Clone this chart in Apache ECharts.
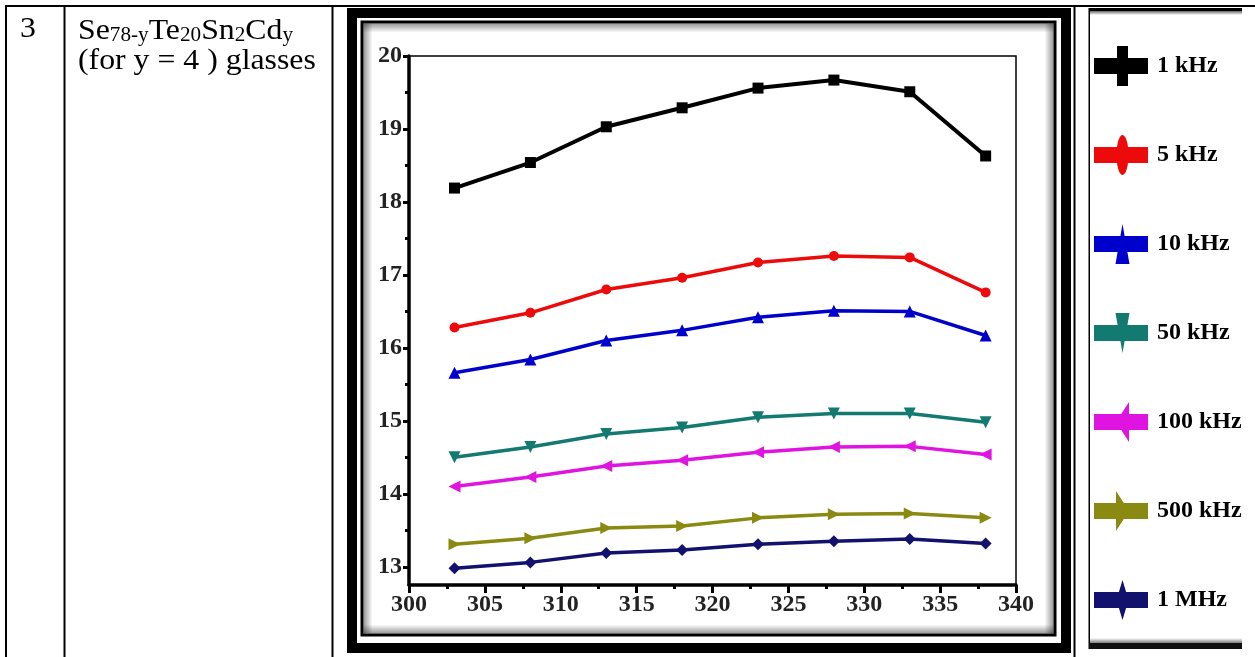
<!DOCTYPE html>
<html>
<head>
<meta charset="utf-8">
<script src="https://cdn.jsdelivr.net/npm/echarts@6/dist/echarts.min.js"></script>
<style>
  html, body { margin: 0; padding: 0; background: #ffffff; }
  #chart { width: 1255px; height: 657px; }
</style>
</head>
<body>
<div id="chart"></div>
<script>
// Temperature (K) on the x axis
const temperatures = [303, 308, 313, 318, 323, 328, 333, 338];

// Dielectric values for each measuring frequency
const freq1k   = [18.19, 18.54, 19.03, 19.29, 19.56, 19.67, 19.51, 18.63];
const freq5k   = [16.28, 16.48, 16.80, 16.96, 17.17, 17.26, 17.24, 16.76];
const freq10k  = [15.66, 15.84, 16.10, 16.24, 16.42, 16.51, 16.50, 16.17];
const freq50k  = [14.50, 14.64, 14.82, 14.91, 15.05, 15.10, 15.10, 14.98];
const freq100k = [14.10, 14.23, 14.38, 14.46, 14.57, 14.64, 14.65, 14.54];
const freq500k = [13.31, 13.39, 13.53, 13.56, 13.67, 13.72, 13.73, 13.67];
const freq1M   = [12.98, 13.06, 13.19, 13.23, 13.31, 13.35, 13.38, 13.32];

const seriesNames = ['1 kHz', '5 kHz', '10 kHz', '50 kHz', '100 kHz', '500 kHz', '1 MHz'];
const seriesValues = [freq1k, freq5k, freq10k, freq50k, freq100k, freq500k, freq1M];

// Axis tick labels
const xTickLabels = [300, 305, 310, 315, 320, 325, 330, 335, 340];
const yTickLabels = [13, 14, 15, 16, 17, 18, 19, 20];
const yMinorTicks = [13.5, 14.5, 15.5, 16.5, 17.5, 18.5, 19.5];

// Table cell text
const rowNumber = '3';
const sampleLine2 = '(for y = 4 ) glasses';

// Per-series look
const colors  = ['#000000', '#ec0a0a', '#0000cc', '#127a70', '#e014e0', '#8a8a12', '#12126e'];
const symbols = ['rect', 'circle', 'triangle', 'triangle', 'triangle', 'triangle', 'diamond'];
const rotates = [0, 0, 0, 180, 90, -90, 0];
const sizes   = [11, 10, 12, 12, 12, 12, 12];
const widths  = [4, 3.5, 3.5, 3.5, 3.5, 3.5, 3.5];

// Legend icons: a thick line with a tall, narrow marker across it
const band = 'M0,12H54V28H0Z';
const legendIcons = [
  'path://M0,12H23V0H34V12H54V28H34V40H23V28H0Z',
  'path://M0,12H23A6,20 0 0 1 34,12H54V28H34A6,20 0 0 1 23,28H0Z',
  'path://' + band + 'M28.5,0L35.5,40H21.5Z',
  'path://' + band + 'M21.5,0H35.5L28.5,40Z',
  'path://' + band + 'M22,20L35,0V40Z',
  'path://' + band + 'M22,0L35,20L22,40Z',
  'path://' + band + 'M28.5,0L34.5,20L28.5,40L22.5,20Z'
];

const serif = '"Liberation Serif", "Times New Roman", serif';

const series = seriesNames.map((name, i) => ({
  name: name,
  type: 'line',
  data: temperatures.map((t, k) => [t, seriesValues[i][k]]),
  symbol: symbols[i],
  symbolRotate: rotates[i],
  symbolSize: sizes[i],
  showAllSymbol: true,
  lineStyle: { color: colors[i], width: widths[i] },
  itemStyle: { color: colors[i], borderWidth: 0 },
  z: 5
}));

// Soft shading strip, darkest at (gx0, gy0), fading toward (gx1, gy1)
function shade(x, y, w, h, gx0, gy0, gx1, gy1, alpha) {
  return {
    type: 'rect', silent: true, z: -5,
    shape: { x: x, y: y, width: w, height: h },
    style: {
      fill: new echarts.graphic.LinearGradient(gx0, gy0, gx1, gy1, [
        { offset: 0, color: 'rgba(0,0,0,' + alpha + ')' },
        { offset: 1, color: 'rgba(0,0,0,0)' }
      ])
    }
  };
}
function bar(x, y, w, h, color) {
  return { type: 'rect', silent: true, z: -4, shape: { x: x, y: y, width: w, height: h }, style: { fill: color || '#000' } };
}

const graphics = [
  // table rules
  bar(5, 5, 1250, 2),
  bar(5, 5, 2, 652),
  bar(63.5, 5, 2, 652),
  bar(331.5, 5, 2, 652),
  bar(1073.5, 5, 2, 652),
  // chart frame: heavy outer border, thin inner border, inner shading
  { type: 'rect', silent: true, z: -4, shape: { x: 352, y: 13, width: 714, height: 635 },
    style: { fill: null, stroke: '#000', lineWidth: 10 } },
  { type: 'rect', silent: true, z: -4, shape: { x: 362, y: 22, width: 693, height: 613 },
    style: { fill: null, stroke: '#000', lineWidth: 3 } },
  shade(363.5, 23.5, 690, 9, 0, 0, 0, 1, 0.4),
  shade(363.5, 624.5, 690, 9, 0, 1, 0, 0, 0.4),
  shade(363.5, 23.5, 9, 610, 0, 0, 1, 0, 0.4),
  shade(1044.5, 23.5, 9, 610, 1, 0, 0, 0, 0.4),
  // legend box
  bar(1088.5, 8, 1.5, 641),
  bar(1089, 8, 153, 3),
  shade(1089, 11, 153, 4, 0, 0, 0, 1, 0.6),
  bar(1089, 643, 153, 6, '#111'),
  shade(1089, 638, 153, 5, 0, 1, 0, 0, 0.5),
  // table text
  { type: 'text', silent: true, z: -3, x: 20, y: 29, scaleX: 1.06,
    style: { text: rowNumber, x: 0, y: 0, verticalAlign: 'middle', fontFamily: serif, fontSize: 30, fill: '#000' } },
  { type: 'text', silent: true, z: -3, x: 78, y: 12, scaleX: 1.06,
    style: {
      x: 0, y: 0, verticalAlign: 'top', fill: '#000',
      text: '{m|Se}{s|78-y}{m|Te}{s|20}{m|Sn}{s|2}{m|Cd}{s|y}',
      rich: {
        m: { fontFamily: serif, fontSize: 30, lineHeight: 34, verticalAlign: 'bottom' },
        s: { fontFamily: serif, fontSize: 20, lineHeight: 18, verticalAlign: 'bottom' }
      }
    } },
  { type: 'text', silent: true, z: -3, x: 78, y: 61, scaleX: 1.06,
    style: { text: sampleLine2, x: 0, y: 0, verticalAlign: 'middle', fontFamily: serif, fontSize: 30, fill: '#000' } }
];

const chart = echarts.init(document.getElementById('chart'), null, { renderer: 'canvas' });
chart.setOption({
  animation: false,
  backgroundColor: '#ffffff',
  grid: {
    left: 409, top: 56, width: 607, height: 529,
    show: true, borderColor: '#000', borderWidth: 1.5, backgroundColor: 'transparent'
  },
  xAxis: {
    type: 'value', min: xTickLabels[0], max: xTickLabels[xTickLabels.length - 1], interval: 5,
    axisLine: { show: true, onZero: false, lineStyle: { color: '#000', width: 3.5 } },
    axisTick: { show: true, length: 8, lineStyle: { color: '#000', width: 3 } },
    minorTick: { show: true, splitNumber: 2, length: 4, lineStyle: { color: '#000', width: 3 } },
    axisLabel: { margin: 8, fontFamily: serif, fontWeight: 'bold', fontSize: 24, color: '#222' },
    splitLine: { show: false }
  },
  yAxis: [{
    type: 'value', min: 12.75, max: 20,
    axisLine: { show: true, onZero: false, lineStyle: { color: '#000', width: 3.5 } },
    axisTick: { show: true, customValues: yTickLabels, length: 6, lineStyle: { color: '#000', width: 3 } },
    axisLabel: { customValues: yTickLabels, margin: 7, fontFamily: serif, fontWeight: 'bold', fontSize: 24, color: '#222' },
    splitLine: { show: false }
  }, {
    type: 'value', min: 12.75, max: 20, position: 'left',
    axisLine: { show: false },
    axisTick: { show: true, customValues: yMinorTicks, length: 4, lineStyle: { color: '#000', width: 3 } },
    axisLabel: { show: false },
    splitLine: { show: false }
  }],
  legend: {
    orient: 'vertical', left: 1089, top: 41,
    itemWidth: 54, itemHeight: 40, itemGap: 49,
    symbolKeepAspect: false, selectedMode: false,
    data: seriesNames.map((n, i) => ({ name: n, icon: legendIcons[i] })),
    textStyle: { fontFamily: serif, fontSize: 24, fontWeight: 'bold', color: '#000', padding: [0, 0, 0, 4] }
  },
  graphic: graphics,
  series: series
});
</script>
</body>
</html>
